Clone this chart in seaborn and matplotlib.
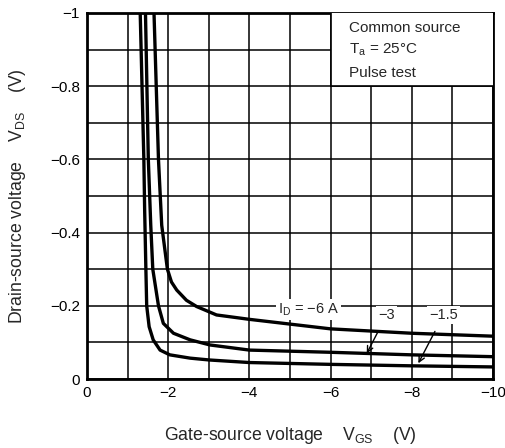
import pandas as pd
import numpy as np
import matplotlib
matplotlib.use('Agg')
import matplotlib.pyplot as plt
import seaborn as sns

# Curves (VGS, VDS in volts)
vgs_6a = [-1.64, -1.65, -1.76, -1.84, -1.98, -2.08, -2.21, -2.45, -2.70, -3.19, -4.0, -6.0, -8.0, -10.0]
vds_6a = [-1.05, -1.0, -0.6, -0.42, -0.30, -0.265, -0.243, -0.215, -0.198, -0.175, -0.163, -0.137, -0.125, -0.117]

vgs_3a = [-1.43, -1.44, -1.51, -1.57, -1.62, -1.76, -1.88, -2.13, -2.54, -3.03, -4.0, -6.0, -8.0, -10.0]
vds_3a = [-1.05, -1.0, -0.6, -0.42, -0.3, -0.2, -0.152, -0.125, -0.107, -0.093, -0.079, -0.073, -0.066, -0.061]

vgs_15a = [-1.30, -1.31, -1.40, -1.42, -1.45, -1.47, -1.53, -1.63, -1.80, -2.04, -2.54, -3.01, -4.0, -6.0, -8.0, -10.0]
vds_15a = [-1.05, -1.0, -0.6, -0.46, -0.3, -0.2, -0.143, -0.107, -0.079, -0.066, -0.057, -0.052, -0.045, -0.040, -0.036, -0.033]

x_ticks = list(range(0, -11, -1))
x_labels = ['0', '', '\u22122', '', '\u22124', '', '\u22126', '', '\u22128', '', '\u221210']
y_ticks = [0, -0.1, -0.2, -0.3, -0.4, -0.5, -0.6, -0.7, -0.8, -0.9, -1.0]
y_labels = ['0', '', '\u22120.2', '', '\u22120.4', '', '\u22120.6', '', '\u22120.8', '', '\u22121']

df = pd.concat([
    pd.DataFrame({'vgs': vgs_6a, 'vds': vds_6a, 'id': '-6'}),
    pd.DataFrame({'vgs': vgs_3a, 'vds': vds_3a, 'id': '-3'}),
    pd.DataFrame({'vgs': vgs_15a, 'vds': vds_15a, 'id': '-1.5'}),
])

sns.set_style('white')
plt.rcParams['font.family'] = ['Liberation Sans', 'DejaVu Sans']

fig = plt.figure(figsize=(5.05, 4.48), dpi=100)
ax = fig.add_axes([0.1723, 0.154, 0.804, 0.817])

sns.lineplot(data=df, x='vgs', y='vds', hue='id', palette=['black'] * 3,
             sort=False, estimator=None, legend=False, linewidth=2.4, ax=ax, zorder=4)

ax.set_xlim(0, -10)
ax.set_ylim(0, -1)
ax.set_xticks(x_ticks)
ax.set_xticklabels(x_labels, fontsize=11)
ax.set_yticks(y_ticks)
ax.set_yticklabels(y_labels, fontsize=11)
ax.tick_params(length=0, pad=5, colors='black')
ax.grid(True, color='black', linewidth=1.1)
for s in ax.spines.values():
    s.set_color('black')
    s.set_linewidth(2)

ax.set_xlabel('Gate-source voltage    $\\mathregular{V_{GS}}$    (V)', fontsize=12.7)
ax.set_ylabel('Drain-source voltage    $\\mathregular{V_{DS}}$    (V)', fontsize=12.7)
ax.xaxis.set_label_coords(0.5, -0.125)
ax.yaxis.set_label_coords(-0.145, 0.5)

# condition box in the top right corner
ax.add_patch(plt.Rectangle((-6.0, -0.8), -4.1, -0.25, facecolor='white',
                           edgecolor='black', linewidth=1.2, zorder=3))
for txt, yy in [('Common source', -0.96), ('$\\mathregular{T_a}$ = 25\u00b0C', -0.899), ('Pulse test', -0.837)]:
    ax.text(-6.45, yy, txt, fontsize=11, va='center', ha='left', zorder=5)

box = dict(facecolor='white', edgecolor='none', pad=1.5)
ax.text(-5.45, -0.19, '$\\mathregular{I_D}$ = \u22126 A', fontsize=10.5, ha='center', va='center',
        bbox=box, zorder=5)
ax.annotate('\u22123', xy=(-6.89, -0.070), xytext=(-7.38, -0.175), fontsize=10.5,
            ha='center', va='center', bbox=box, zorder=5,
            arrowprops=dict(arrowstyle='->', color='black', lw=1, shrinkA=6, shrinkB=0))
ax.annotate('\u22121.5', xy=(-8.16, -0.043), xytext=(-8.78, -0.175), fontsize=10.5,
            ha='center', va='center', bbox=box, zorder=5,
            arrowprops=dict(arrowstyle='->', color='black', lw=1, shrinkA=6, shrinkB=0))

plt.savefig('out.png', dpi=100)
